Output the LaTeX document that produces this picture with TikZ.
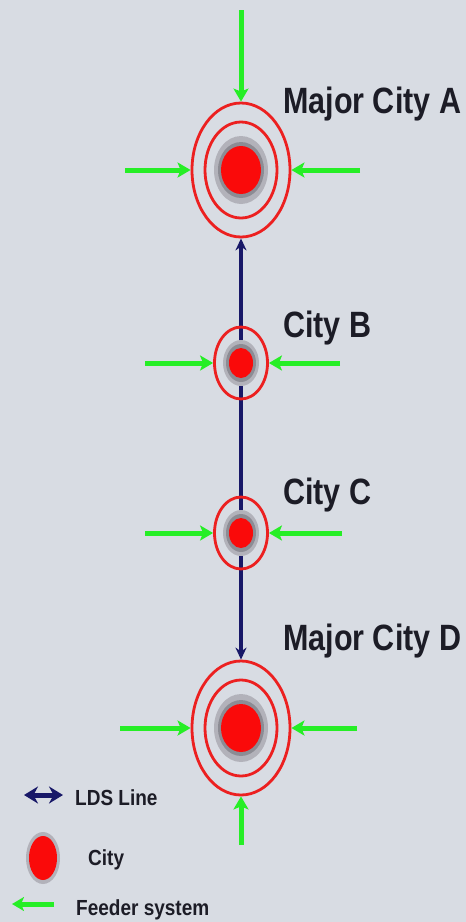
\documentclass[tikz,border=0pt]{standalone}
\usepackage{fontspec}
\setmainfont{Liberation Sans}
\usepackage{xcolor}
\usetikzlibrary{arrows.meta,positioning,shapes.geometric}

\definecolor{bgback}{RGB}{216,220,227}
\definecolor{ldsblue}{RGB}{24,24,104}
\definecolor{feedgreen}{RGB}{38,238,38}
\definecolor{ringred}{RGB}{236,32,32}
\definecolor{dotred}{RGB}{250,10,10}
\definecolor{halogray}{RGB}{140,140,148}
\definecolor{halolight}{RGB}{178,178,186}
\definecolor{labelink}{RGB}{28,28,38}

\tikzset{
  ring/.style={ellipse, draw=ringred, line width=2.8pt, inner sep=0pt},
  majorring/.style={ring, minimum width=98pt, minimum height=134pt},
  minorring/.style={ring, minimum width=53pt, minimum height=72pt},
  feeder/.style={feedgreen, line width=5pt, -{Stealth[length=13pt,width=15pt,inset=3pt]}},
  ldsline/.style={ldsblue, line width=3.5pt, {Stealth[length=12pt,width=11pt]}-{Stealth[length=12pt,width=11pt]}},
  citylabel/.style={font=\fontsize{30.5}{34}\selectfont\bfseries, text=labelink, inner sep=0pt, anchor=base west},
  legendlabel/.style={font=\fontsize{19}{22}\selectfont\bfseries, text=labelink, inner sep=0pt, anchor=base west}
}

\begin{document}
\begin{tikzpicture}[x=1pt,y=1pt]
    % Background
    \fill[bgback] (0,0) rectangle (466,-922);
    \useasboundingbox (0,0) rectangle (466,-922);

    % Major cities
    \node[majorring] (cityA) at (241,-170) {};
    \node[majorring] (cityD) at (241,-728) {};

    % LDS line
    \draw[ldsline] (cityA.south) -- (cityD.north);

    % Smaller cities
    \node[minorring] (cityB) at (241,-363) {};
    \node[minorring] (cityC) at (241,-533) {};

    % Inner rings and city cores
    \draw[ringred, line width=2.8pt] (cityA.center) ellipse [x radius=36, y radius=48];
    \draw[ringred, line width=2.8pt] (cityD.center) ellipse [x radius=36, y radius=48];
    \fill[halolight] (cityA.center) ellipse [x radius=27, y radius=34];
    \fill[halogray] (cityA.center) ellipse [x radius=23, y radius=28];
    \fill[dotred] (cityA.center) ellipse [x radius=20, y radius=24];
    \fill[halolight] (cityD.center) ellipse [x radius=27, y radius=34];
    \fill[halogray] (cityD.center) ellipse [x radius=23, y radius=28];
    \fill[dotred] (cityD.center) ellipse [x radius=20, y radius=24];
    \fill[halolight] (cityB.center) ellipse [x radius=18, y radius=23];
    \fill[halogray] (cityB.center) ellipse [x radius=15, y radius=19];
    \fill[dotred] (cityB.center) ellipse [x radius=12, y radius=15];
    \fill[halolight] (cityC.center) ellipse [x radius=18, y radius=23];
    \fill[halogray] (cityC.center) ellipse [x radius=15, y radius=19];
    \fill[dotred] (cityC.center) ellipse [x radius=12, y radius=15];

    % Feeder systems
    \coordinate (fAn) at (241,-10);
    \coordinate (fAw) at (125,-170);
    \coordinate (fAe) at (360,-170);
    \coordinate (fBw) at (145,-363);
    \coordinate (fBe) at (340,-363);
    \coordinate (fCw) at (145,-533);
    \coordinate (fCe) at (342,-533);
    \coordinate (fDw) at (120,-728);
    \coordinate (fDe) at (357,-728);
    \coordinate (fDs) at (241,-845);
    \draw[feeder] (fAn) -- (cityA.north);
    \draw[feeder] (fAw) -- (cityA.west);
    \draw[feeder] (fAe) -- (cityA.east);
    \draw[feeder] (fBw) -- (cityB.west);
    \draw[feeder] (fBe) -- (cityB.east);
    \draw[feeder] (fCw) -- (cityC.west);
    \draw[feeder] (fCe) -- (cityC.east);
    \draw[feeder] (fDw) -- (cityD.west);
    \draw[feeder] (fDe) -- (cityD.east);
    \draw[feeder] (fDs) -- (cityD.south);

    % City labels
    \node[citylabel] (labelA) at (283,-113) {\scalebox{1}[1.2]{Major City A}};
    \node[citylabel] (labelB) at (283,-337) {\scalebox{1}[1.2]{City B}};
    \node[citylabel] (labelC) at (283,-504) {\scalebox{1}[1.2]{City C}};
    \node[citylabel] (labelD) at (283,-650) {\scalebox{1}[1.2]{Major City D}};

    % Legend
    \coordinate (legLdsW) at (24,-795);
    \coordinate (legLdsE) at (63,-795);
    \draw[ldsblue, line width=5pt, {Stealth[length=14pt,width=17pt]}-{Stealth[length=14pt,width=17pt]}] (legLdsW) -- (legLdsE);
    \node[legendlabel] (legLds) at (75,-805) {\scalebox{1}[1.15]{LDS Line}};

    \fill[halolight] (43,-858) ellipse [x radius=17, y radius=26];
    \fill[dotred] (43,-858) ellipse [x radius=14, y radius=22];
    \node[legendlabel] (legCity) at (88,-865) {\scalebox{1}[1.15]{City}};

    \coordinate (legFeedE) at (54,-904);
    \coordinate (legFeedW) at (12,-904);
    \draw[feedgreen, line width=5pt, -{Stealth[length=12pt,width=14pt,inset=3pt]}] (legFeedE) -- (legFeedW);
    \node[legendlabel] (legFeed) at (76,-915) {\scalebox{1}[1.15]{Feeder system}};
\end{tikzpicture}
\end{document}
